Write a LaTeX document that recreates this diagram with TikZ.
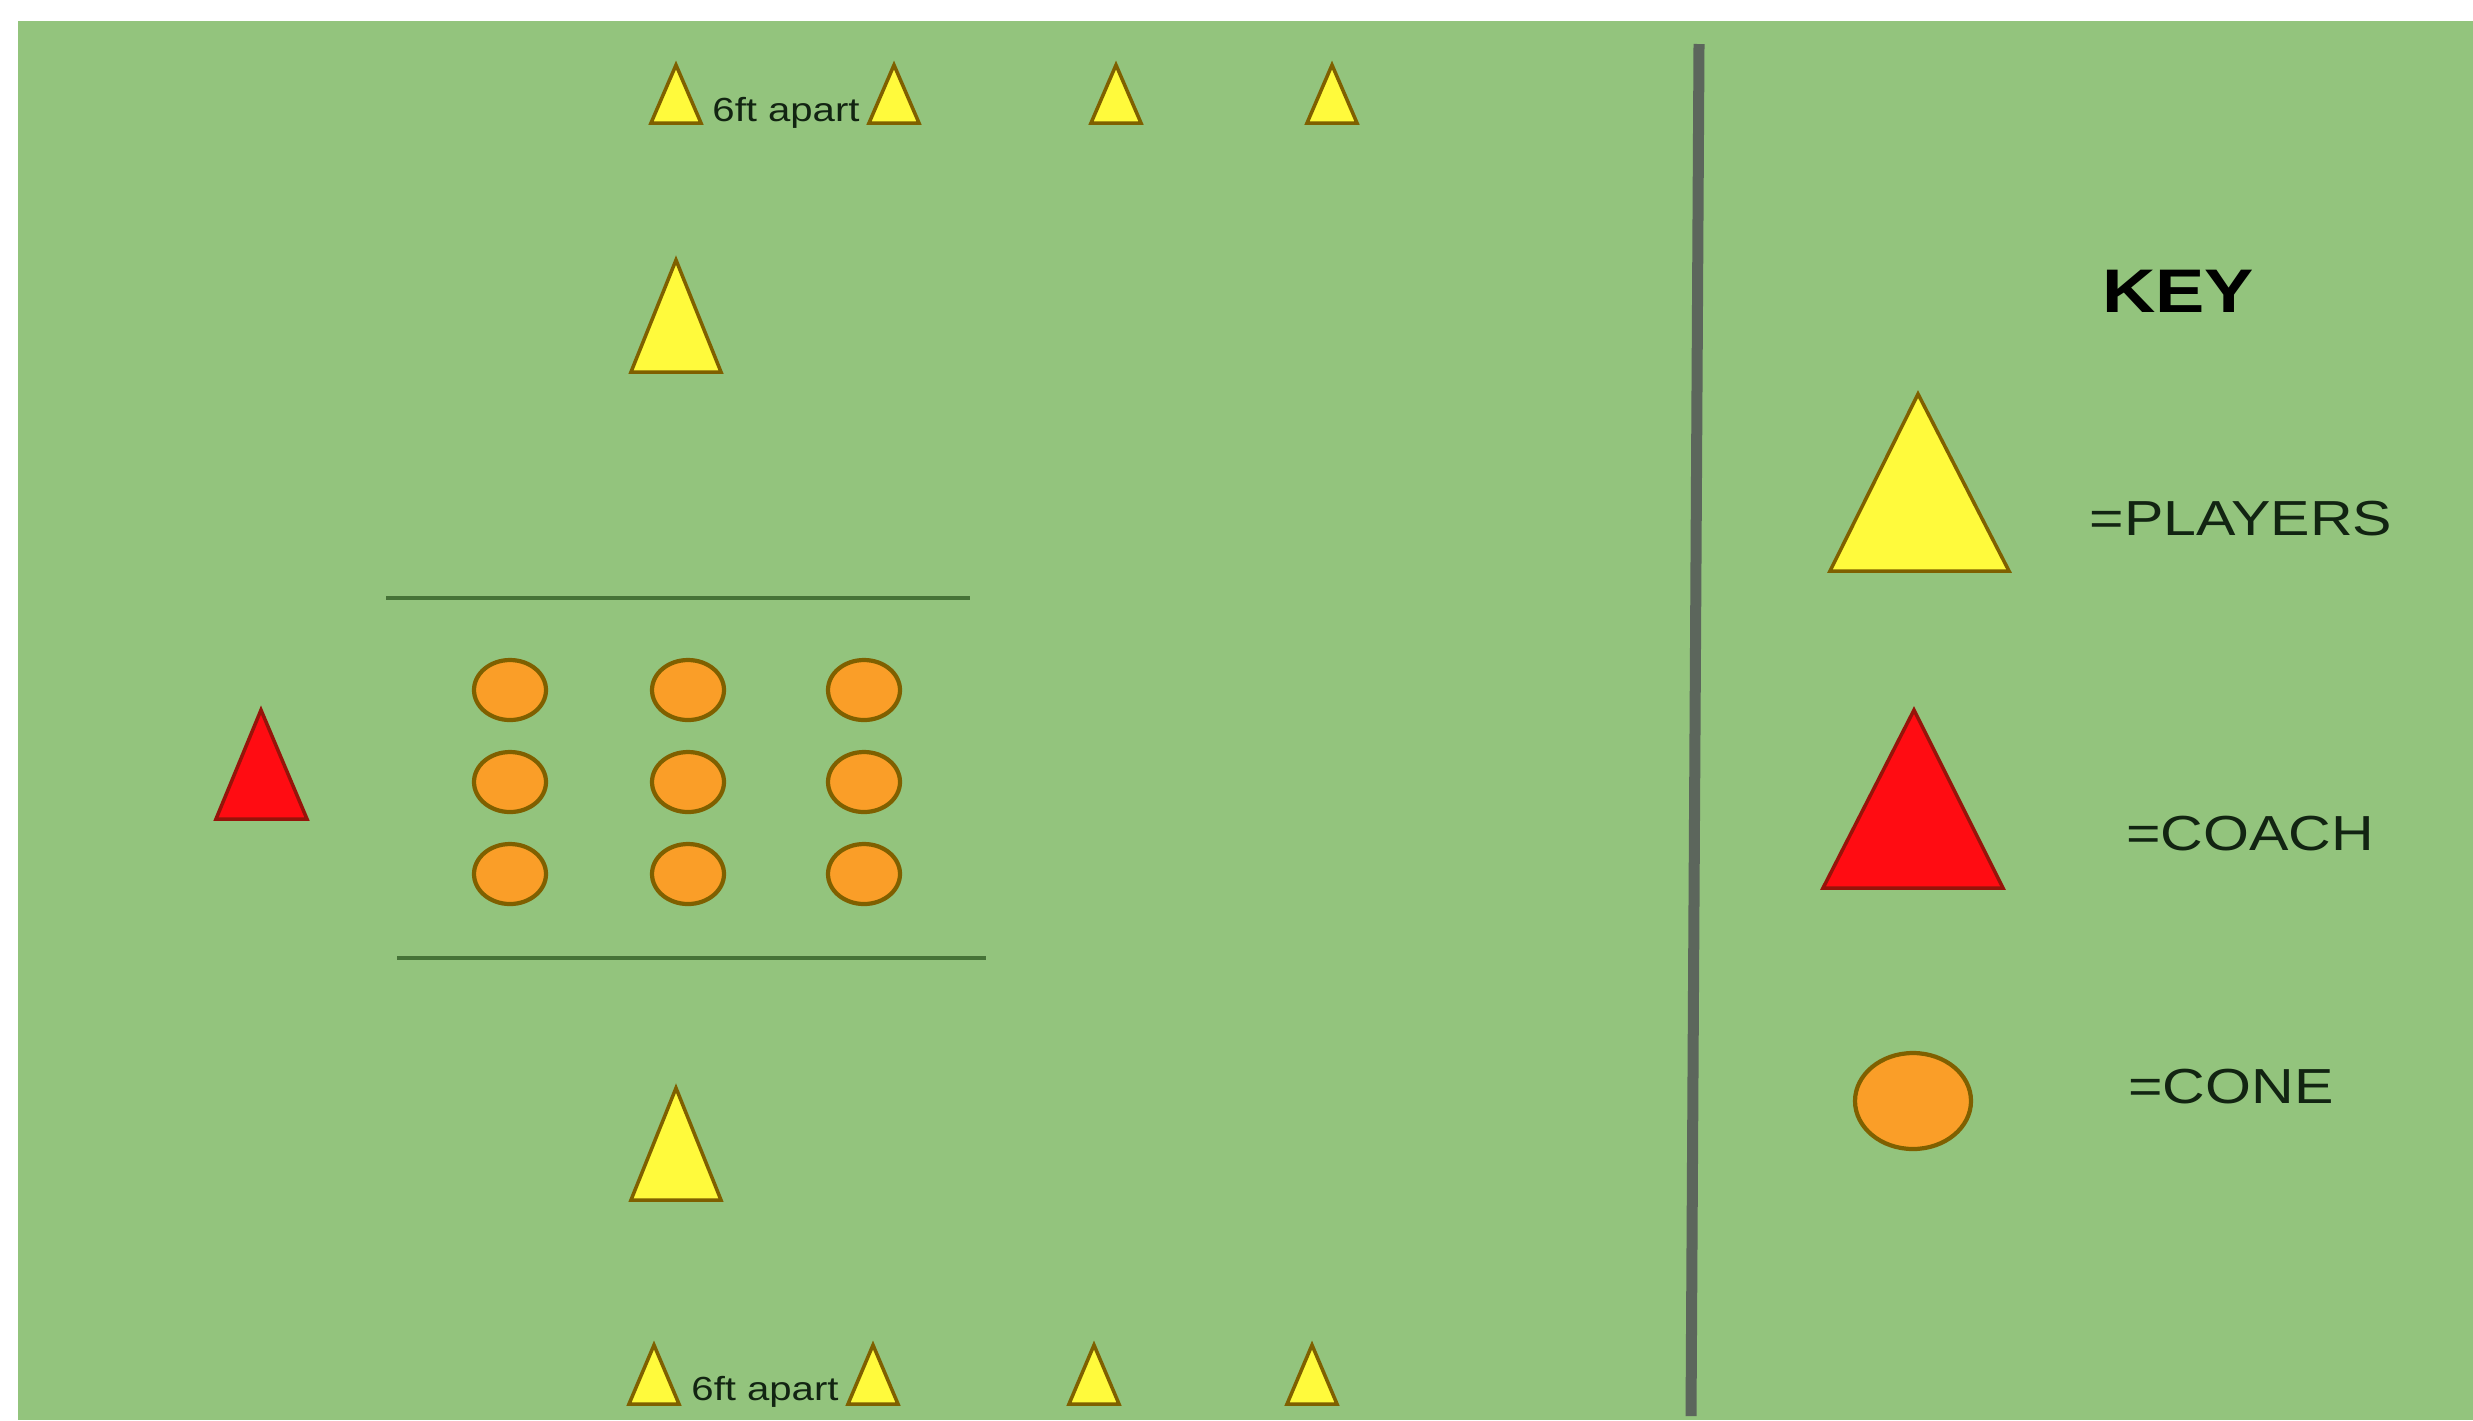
\documentclass[tikz,border=0pt]{standalone}
\usepackage{fontspec}
\setmainfont{Liberation Sans}
\usepackage{graphicx}
\usepackage{tikz}
\definecolor{pitch}{RGB}{147,196,125}
\definecolor{bib}{RGB}{255,250,60}
\definecolor{olive}{RGB}{127,96,0}
\definecolor{coachred}{RGB}{255,12,18}
\definecolor{darkred}{RGB}{150,20,10}
\definecolor{conefill}{RGB}{250,158,40}
\definecolor{lane}{RGB}{70,115,55}
\definecolor{inkgreen}{RGB}{18,36,18}
\definecolor{post}{RGB}{92,102,92}
\newcommand{\wide}[1]{\scalebox{1.2}[1]{#1}}
\tikzset{player/.style={fill=bib, draw=olive, line width=1pt, line join=miter},
coach/.style={fill=coachred, draw=darkred, line width=1pt},
cone/.style={fill=conefill, draw=olive, line width=1.2pt},
lanes/.style={draw=lane, line width=1.1pt},
divider/.style={draw=post, line width=1.1mm},
keytext/.style={anchor=base, text=inkgreen, font=\fontsize{14}{16}\selectfont},
gaptext/.style={anchor=base, text=inkgreen, font=\fontsize{9.5}{11}\selectfont}}

\begin{document}
\begin{tikzpicture}[x=0.01cm, y=-0.01cm]
  \useasboundingbox (0,0) rectangle (2473,1420);
  \fill[pitch] (18,21) rectangle (2473,1420);
  % rangées de joueurs
  \foreach \x in {676,894,1116,1332}
    \draw[player] (\x,65) -- (\x-25,123) -- (\x+25,123) -- cycle;
  \foreach \x in {654,873,1094,1312}
    \draw[player] (\x,1345) -- (\x-25,1404) -- (\x+25,1404) -- cycle;
  \node[gaptext] (gaptop) at (786,121) {\wide{6ft apart}};
  \node[gaptext] (gapbot) at (765,1400) {\wide{6ft apart}};
  \draw[player] (676,260) -- (631,372) -- (721,372) -- cycle;
  \draw[player] (676,1088) -- (631,1200) -- (721,1200) -- cycle;
  % zone des plots
  \draw[lanes] (386,598) -- (970,598);
  \draw[lanes] (397,958) -- (986,958);
  \draw[coach] (261,710) -- (216,819) -- (307,819) -- cycle;
  \foreach \x in {510,688,864}
    \foreach \y in {690,782,874}
      \draw[cone] (\x,\y) ellipse [x radius=36, y radius=30];
  \draw[divider] (1699,44) -- (1691,1416);
  % legende
  \node[anchor=base, font=\fontsize{17.5}{20}\selectfont\bfseries] (keytitle) at (2178,312) {\wide{KEY}};
  \draw[player] (1918,394) -- (1830,571) -- (2009,571) -- cycle;
  \node[keytext] (playerlbl) at (2241,535) {\wide{=PLAYERS}};
  \draw[coach] (1914,710) -- (1823,888) -- (2003,888) -- cycle;
  \node[keytext] (coachlbl) at (2250,850) {\wide{=COACH}};
  \draw[cone] (1913,1101) ellipse [x radius=58, y radius=48];
  \node[keytext] (conelbl) at (2231,1103) {\wide{=CONE}};
\end{tikzpicture}
\end{document}
